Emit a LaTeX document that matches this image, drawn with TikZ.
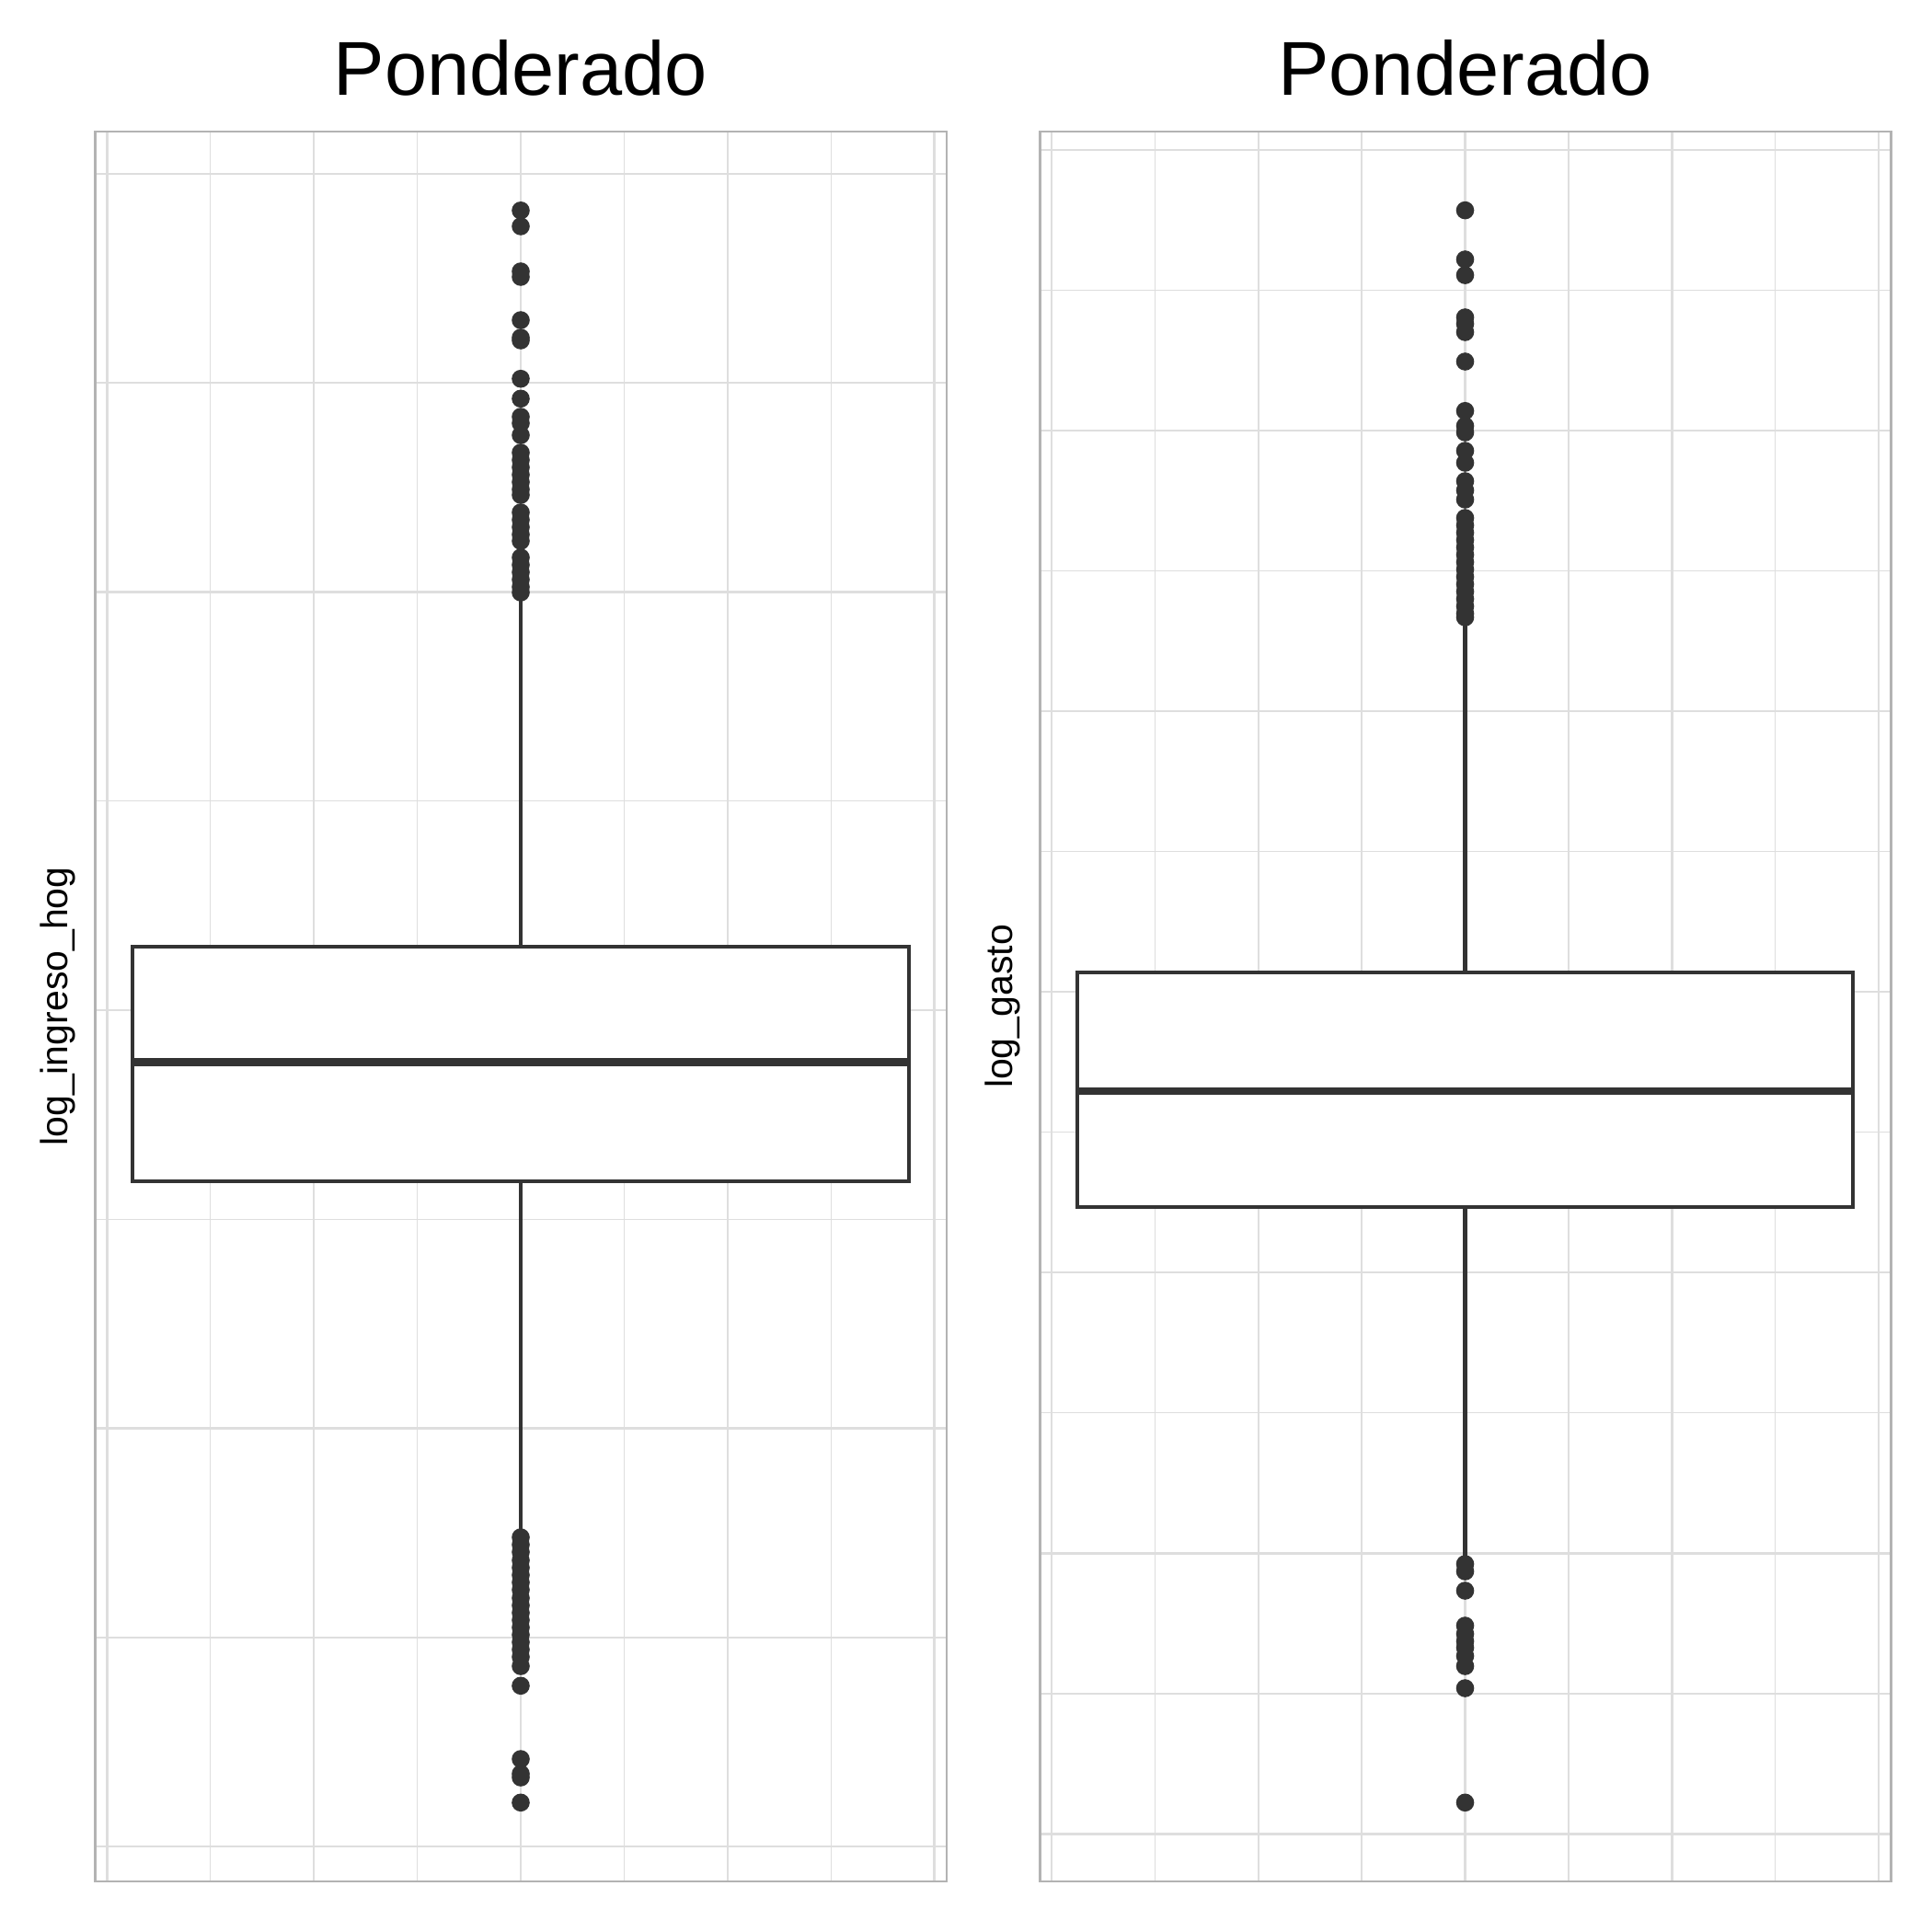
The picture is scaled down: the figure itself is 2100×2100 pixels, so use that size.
\documentclass[tikz,border=0pt]{standalone}
\usepackage{fontspec}
\setmainfont{Liberation Sans}
\definecolor{gridc}{HTML}{DEDEDE}
\definecolor{borderc}{HTML}{B3B3B3}
\definecolor{inkc}{HTML}{333333}
\tikzset{
  gridmaj/.style={draw=gridc, line width=2.4pt},
  gridmin/.style={draw=gridc, line width=1.3pt},
  panelborder/.style={draw=borderc, line width=2.4pt},
  boxline/.style={draw=inkc, line width=4.3pt},
  medline/.style={draw=inkc, line width=8.6pt},
  outlier/.style={fill=inkc},
  titletext/.style={inner sep=0pt, anchor=base, font=\fontsize{83}{90}\selectfont},
  axistext/.style={inner sep=0pt, anchor=base, rotate=90, font=\fontsize{41}{48}\selectfont}
}
\begin{document}
\begin{tikzpicture}[x=1pt,y=-1pt]
\useasboundingbox[fill=white] (0,0) rectangle (2100,2100);

% ---------------- Left panel ----------------
\foreach \k in {1,3,5,7} \draw[gridmin] (103.3,{188.8+227.3*\k}) -- (1028.8,{188.8+227.3*\k});
\foreach \k in {0,2,4,6,8} \draw[gridmaj] (103.3,{188.8+227.3*\k}) -- (1028.8,{188.8+227.3*\k});
\foreach \k in {-3,-1,1,3} \draw[gridmin] ({566+112.4*\k},143.3) -- ({566+112.4*\k},2044.7);
\foreach \k in {-4,-2,0,2,4} \draw[gridmaj] ({566+112.4*\k},143.3) -- ({566+112.4*\k},2044.7);

\draw[boxline] (566,1028.7) -- (566,648);
\draw[boxline] (566,1284.2) -- (566,1666);
\filldraw[boxline, fill=white] (144.3,1028.7) rectangle (987.7,1284.2);
\draw[medline, line cap=butt] (144.3,1154.6) -- (987.7,1154.6);

\foreach \y in {228.8,246,295,301,348,367,370,411.7,433.3,
  453,460,473,
  492,500,508,516,524,532,538,
  557,565,573,581,588,
  606,614,622,630,638,644}
  \fill[outlier] (566,\y) circle[radius=9.8];
\foreach \y in {1671,1679,1687,1696,1704,1712,1720,1728,1737,1745,
  1753,1761,1769,1777,1785,1793,1801,1811,
  1832.3,1912,1928,1932,1959.3}
  \fill[outlier] (566,\y) circle[radius=9.8];

\draw[panelborder] (103.3,143.3) rectangle (1028.8,2044.7);

\node[titletext] (title1) at (566,104) {Ponderado};
\node[axistext] (ylab1) at (73.3,1094) {log\_ingreso\_hog};

% ---------------- Right panel ----------------
\foreach \k in {1,3,5,7,9,11} \draw[gridmin] (1130.4,{163+152.53*\k}) -- (2055.3,{163+152.53*\k});
\foreach \k in {0,2,4,6,8,10,12} \draw[gridmaj] (1130.4,{163+152.53*\k}) -- (2055.3,{163+152.53*\k});
\foreach \k in {-3,-1,1,3} \draw[gridmin] ({1592.5+112.4*\k},143.3) -- ({1592.5+112.4*\k},2044.7);
\foreach \k in {-4,-2,0,2,4} \draw[gridmaj] ({1592.5+112.4*\k},143.3) -- ({1592.5+112.4*\k},2044.7);

\draw[boxline] (1592.5,1056.7) -- (1592.5,676);
\draw[boxline] (1592.5,1312.3) -- (1592.5,1696);
\filldraw[boxline, fill=white] (1171,1056.7) rectangle (2014,1312.3);
\draw[medline, line cap=butt] (1171,1186) -- (2014,1186);

\foreach \y in {228.6,282,299.1,345,352,361,393,446.7,
  463,470,
  490,503,
  523,533,543,
  563,571,579,587,595,603,611,619,627,635,643,651,659,667,671}
  \fill[outlier] (1592.5,\y) circle[radius=9.8];
\foreach \y in {1700,1708,1729,1767,1776,1784,1791,1800,1811,1835,1959.3}
  \fill[outlier] (1592.5,\y) circle[radius=9.8];

\draw[panelborder] (1130.4,143.3) rectangle (2055.3,2044.7);

\node[titletext] (title2) at (1592.5,104) {Ponderado};
\node[axistext] (ylab2) at (1100.2,1094) {log\_gasto};
\end{tikzpicture}
\end{document}
